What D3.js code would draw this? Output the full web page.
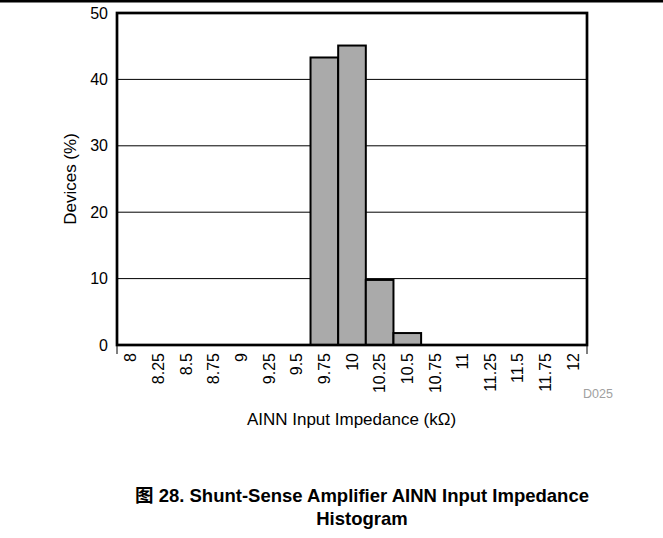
<!DOCTYPE html>
<html><head><meta charset="utf-8">
<script src="https://cdn.jsdelivr.net/npm/d3@7"></script>
<style>
body{margin:0;background:#fff;}
text{font-family:"Liberation Sans",Arial,sans-serif;}
</style></head>
<body>
<svg id="c" width="663" height="538"></svg>
<script>
const categories = ["8","8.25","8.5","8.75","9","9.25","9.5","9.75","10","10.25","10.5","10.75","11","11.25","11.5","11.75","12"];
const devicesPct = [0,0,0,0,0,0,0,43.3,45.1,9.8,1.8,0,0,0,0,0,0];
const yTicks = [0,10,20,30,40,50];

const svg = d3.select("#c");
const L=117, R=587, T=13, B=345;
const FF = "'Liberation Sans', Arial, sans-serif";

svg.append("rect").attr("x",0).attr("y",0).attr("width",663).attr("height",2.5).attr("fill","#000");

const x = d3.scaleBand().domain(categories).range([L,R]).padding(0);
const y = d3.scaleLinear().domain([0,50]).range([B,T]);

// gridlines
svg.append("g").selectAll("line").data(yTicks.filter(d=>d>0&&d<50)).join("line")
  .attr("x1",L).attr("x2",R).attr("y1",d=>y(d)).attr("y2",d=>y(d))
  .attr("stroke","#000").attr("stroke-width",1);

// bars
svg.append("g").selectAll("rect").data(categories.map((c,i)=>({c,v:devicesPct[i]})).filter(d=>d.v>0)).join("rect")
  .attr("x",d=>x(d.c)).attr("width",x.bandwidth())
  .attr("y",d=>y(d.v)).attr("height",d=>B-y(d.v))
  .attr("fill","#aaaaaa").attr("stroke","#000").attr("stroke-width",2);

// frame
svg.append("rect").attr("x",L).attr("y",T).attr("width",R-L).attr("height",B-T)
  .attr("fill","none").attr("stroke","#000").attr("stroke-width",2.7);
// end ticks below
[L,R].forEach(px=>svg.append("line").attr("x1",px).attr("x2",px).attr("y1",B).attr("y2",B+9).attr("stroke","#000").attr("stroke-width",1));

// y axis labels
const yAxis = d3.axisLeft(y).tickValues(yTicks).tickSize(0).tickPadding(9);
const gy = svg.append("g").attr("transform",`translate(${L},0)`).call(yAxis);
gy.select(".domain").remove();
gy.selectAll("text").attr("font-size",16).attr("fill","#000").attr("font-family",FF);

// x axis labels
const xAxis = d3.axisBottom(x).tickSize(0).tickPadding(0);
const gx = svg.append("g").attr("transform",`translate(0,${B})`).call(xAxis);
gx.select(".domain").remove();
gx.selectAll("text").attr("font-size",16).attr("fill","#000").attr("font-family",FF)
  .attr("text-anchor","end").attr("dy","0.35em").attr("y",0)
  .attr("transform","translate(0,8) rotate(-90)");

svg.append("text").attr("transform",`translate(76,${(T+B)/2}) rotate(-90)`).attr("text-anchor","middle")
  .attr("font-size",17).text("Devices (%)");
svg.append("text").attr("x",351.5).attr("y",425).attr("text-anchor","middle").attr("font-size",17).text("AINN Input Impedance (kΩ)");
svg.append("text").attr("x",583).attr("y",398).attr("text-anchor","start").attr("font-size",12.5).attr("fill","#a0a0a0").text("D025");

svg.append("text").attr("x",362).attr("y",502).attr("text-anchor","middle").attr("font-size",18.5).attr("font-weight","bold")
  .style("font-family","'Liberation Sans', Arial, 'Noto Sans CJK SC', sans-serif").text("图 28. Shunt-Sense Amplifier AINN Input Impedance");
svg.append("text").attr("x",362).attr("y",525).attr("text-anchor","middle").attr("font-size",18.5).attr("font-weight","bold").text("Histogram");
</script>
</body></html>
